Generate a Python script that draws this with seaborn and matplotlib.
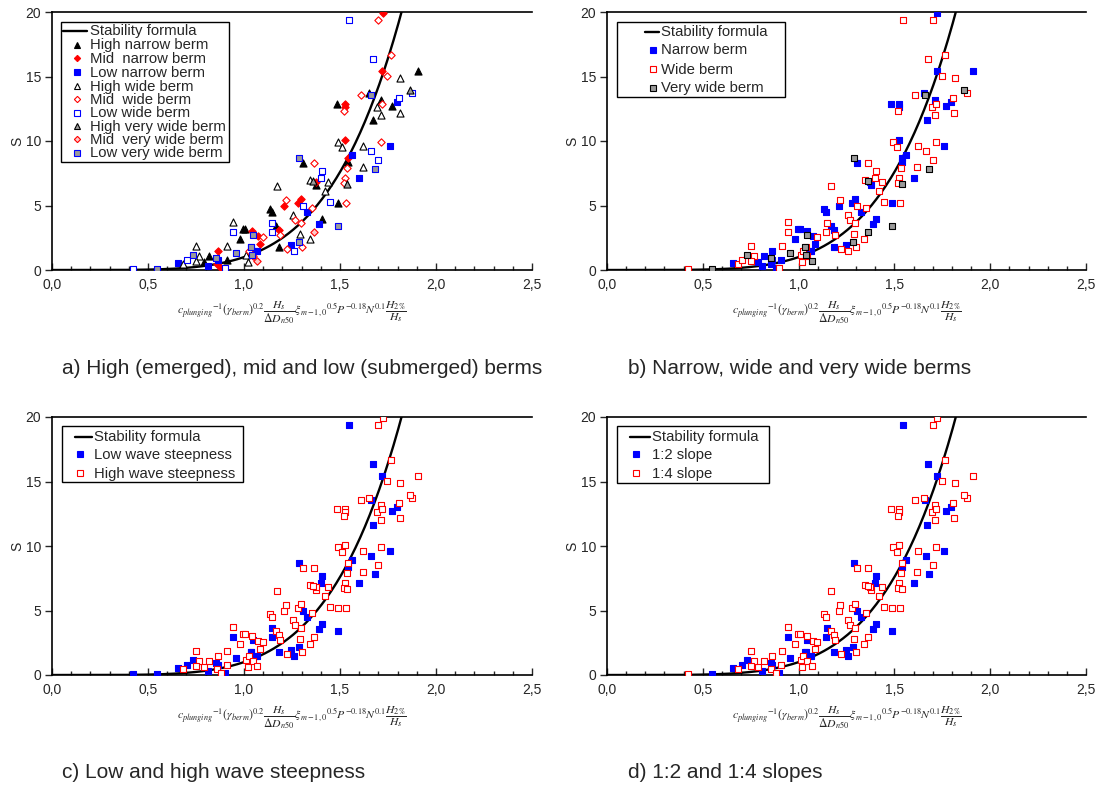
import numpy as np
import pandas as pd
import matplotlib
matplotlib.use("Agg")
import matplotlib.pyplot as plt
import seaborn as sns
from matplotlib.lines import Line2D
from matplotlib.patches import Rectangle
from matplotlib.ticker import MultipleLocator, FuncFormatter

sns.set_style("white")
plt.rcParams['font.family'] = ['Liberation Sans', 'DejaVu Sans']
plt.rcParams['mathtext.fontset'] = 'stix'

# ---- measured damage S against the combined stability parameter ----
# high crest, narrow berm
hn_x = [0.79, 0.82, 0.91, 0.98, 0.995, 1.005, 1.134, 1.144, 1.167, 1.183, 1.307, 1.377,
        1.404, 1.49, 1.54, 1.482, 1.652, 1.712, 1.771, 1.67, 1.908]
hn_s = [0.6, 1.1, 0.78, 2.4, 3.2, 3.2, 4.7, 4.5, 3.4, 1.8, 8.3, 6.6,
        3.95, 5.2, 8.4, 12.9, 13.7, 13.2, 12.7, 11.6, 15.4]
# mid crest, narrow berm
mn_x = [0.858, 0.88, 0.862, 1.044, 1.075, 1.083, 1.184, 1.21, 1.28, 1.295, 1.375, 1.54,
        1.525, 1.525, 1.525, 1.72, 1.723]
mn_s = [0.45, 0.15, 1.5, 3.0, 2.65, 2.0, 3.1, 4.95, 5.2, 5.5, 6.8, 8.7,
        10.1, 12.9, 12.6, 15.4, 19.9]
# low crest, narrow berm
ln_x = [0.658, 0.81, 0.862, 1.058, 1.066, 1.245, 1.326, 1.39, 1.56, 1.60, 1.76, 1.796]
ln_s = [0.55, 0.3, 0.8, 1.5, 1.45, 1.9, 4.5, 3.6, 8.9, 7.1, 9.6, 13.0]
# high crest, wide berm
hw_x = [0.684, 0.75, 0.765, 0.75, 0.914, 0.944, 1.011, 1.02, 1.17, 1.256, 1.29, 1.343,
        1.344, 1.435, 1.42, 1.62, 1.492, 1.513, 1.622, 1.695, 1.813, 1.712, 1.815]
hw_s = [0.5, 1.85, 1.1, 0.7, 1.85, 3.7, 1.2, 0.6, 6.55, 4.3, 2.8, 2.4,
        7.0, 6.8, 6.15, 8.0, 9.95, 9.5, 9.65, 12.65, 12.15, 12.05, 14.9]
# mid crest, wide berm
mw_x = [1.025, 1.046, 1.097, 1.19, 1.222, 1.30, 1.217, 1.266, 1.295, 1.354, 1.364,
        1.534, 1.525, 1.52, 1.53, 1.519, 1.61, 1.716, 1.719, 1.747, 1.765, 1.70]
mw_s = [1.45, 1.05, 2.55, 2.75, 1.65, 1.75, 5.4, 3.9, 3.65, 4.8, 8.3,
        7.9, 7.1, 6.75, 5.2, 12.3, 13.6, 9.9, 12.9, 15.05, 16.7, 19.35]
# low crest, wide berm
lw_x = [0.422, 0.705, 0.9, 0.944, 1.037, 1.145, 1.148, 1.26, 1.305, 1.40, 1.404, 1.448,
        1.664, 1.70, 1.806, 1.877, 1.674, 1.545]
lw_s = [0.1, 0.75, 0.15, 2.95, 1.8, 2.95, 3.65, 1.5, 5.0, 7.1, 7.7, 5.3,
        9.2, 8.5, 13.3, 13.7, 16.35, 19.4]
# high crest, very wide berm
hv_x = [1.36, 1.538, 1.865]
hv_s = [6.9, 6.65, 13.95]
# mid crest, very wide berm
mv_x = [1.069, 1.364]
mv_s = [0.7, 2.95]
# low crest, very wide berm
lv_x = [0.549, 0.732, 0.855, 0.957, 1.035, 1.04, 1.046, 1.285, 1.287, 1.488, 1.683, 1.66]
lv_s = [0.05, 1.2, 0.9, 1.35, 1.75, 1.2, 2.7, 2.2, 8.7, 3.4, 7.8, 13.6]

# wave steepness (L = low, H = high) and slope (2 = 1:2, 4 = 1:4) per test
hn_steep = "HHHHHHHHHLHHLHLHHHLLH"
hn_slope = "444444444244242444224"
mn_steep = "HHHHHHHHHHHHHHHLH"
mn_slope = "44444444444444424"
ln_steep = "LLLLLLLLLLLL"
ln_slope = "222222222222"
hw_steep = "HHHHHHHHHHHHHHHHHHHHHHH"
hw_slope = "44444444444444444444444"
mw_steep = "HHHHHHHHHHHHHHHHHHHHHH"
mw_slope = "4444444444444444444444"
lw_steep = "LLLLLLLLLLLHLHHHLL"
lw_slope = "422222222224244422"
hv_steep = "HHH"
hv_slope = "444"
mv_steep = "HH"
mv_slope = "44"
lv_steep = "LLLLLLLLLLLL"
lv_slope = "222222222222"

groups = [
    ("High narrow berm", "H", "N", hn_x, hn_s, hn_steep, hn_slope),
    ("Mid  narrow berm", "M", "N", mn_x, mn_s, mn_steep, mn_slope),
    ("Low narrow berm", "L", "N", ln_x, ln_s, ln_steep, ln_slope),
    ("High wide berm", "H", "W", hw_x, hw_s, hw_steep, hw_slope),
    ("Mid  wide berm", "M", "W", mw_x, mw_s, mw_steep, mw_slope),
    ("Low wide berm", "L", "W", lw_x, lw_s, lw_steep, lw_slope),
    ("High very wide berm", "H", "V", hv_x, hv_s, hv_steep, hv_slope),
    ("Mid  very wide berm", "M", "V", mv_x, mv_s, mv_steep, mv_slope),
    ("Low very wide berm", "L", "V", lv_x, lv_s, lv_steep, lv_slope),
]

rows = []
for name, crest, width, xs, ss, st, sl in groups:
    for i, (xv, sv) in enumerate(zip(xs, ss)):
        rows.append(dict(group=name, crest=crest, width=width, x=xv, S=sv,
                         steep=st[i], slope=sl[i]))
df = pd.DataFrame(rows)

# stability formula S = X^5
xc = np.linspace(0.0, 1.86, 300)
curve = pd.DataFrame(dict(x=xc, S=xc ** 5))

BLUE = "#0000ff"
RED = "#ff0000"
GREY = "#9a9a9a"

crest_marker = {"H": "^", "M": "D", "L": "s"}
crest_color = {"H": "black", "M": RED, "L": BLUE}

MS = 20  # marker area in pt^2
FS_LEG = 10.7

fig = plt.figure(figsize=(11.01, 7.87), dpi=100)
W, H = 1101, 787


def fx(px):
    return px / W


def fy(py):
    return 1 - py / H


def style_for(crest, width):
    edge = crest_color[crest]
    if width == "N":
        face = edge
    elif width == "W":
        face = "white"
    else:
        face = "#ffc8c8" if crest == "M" else GREY
    size = MS
    if crest == "M":
        size = MS * 0.7
    elif crest == "H":
        size = MS * 1.3
    return crest_marker[crest], face, edge, size


XLABEL = (r"$c_{plunging}{}^{-1}(\gamma_{berm})^{0.2}\dfrac{H_s}{\Delta D_{n50}}"
          r"\xi_{m-1,0}{}^{0.5}P^{-0.18}N^{0.1}\dfrac{H_{2\%}}{H_s}$")


def setup_axes(ax):
    ax.set_xlim(0, 2.5)
    ax.set_ylim(0, 20)
    ax.xaxis.set_major_locator(MultipleLocator(0.5))
    ax.xaxis.set_minor_locator(MultipleLocator(0.1))
    ax.yaxis.set_major_locator(MultipleLocator(5))
    ax.xaxis.set_major_formatter(FuncFormatter(lambda v, p: f"{v:.1f}".replace(".", ",")))
    ax.yaxis.set_major_formatter(FuncFormatter(lambda v, p: f"{v:.0f}"))
    ax.tick_params(axis="x", which="major", direction="in", length=5, width=1,
                   labelsize=10, pad=6, bottom=True)
    ax.tick_params(axis="x", which="minor", direction="in", length=3, width=1, bottom=True)
    ax.tick_params(axis="y", which="major", direction="out", length=5, width=1,
                   labelsize=10, left=True, pad=3)
    for side in ["left", "bottom", "top"]:
        ax.spines[side].set_visible(True)
        ax.spines[side].set_color("black")
        ax.spines[side].set_linewidth(1.2)
    ax.spines["right"].set_visible(False)
    ax.set_ylabel("S", fontsize=10, labelpad=1)
    ax.set_xlabel(XLABEL, fontsize=8.5, labelpad=5)


def draw_curve(ax):
    sns.lineplot(data=curve, x="x", y="S", color="black", lw=1.7, ax=ax,
                 legend=False, zorder=3)


def draw_key(box, line_span, mark_x, text_x, row_y, entries):
    """Boxed key: first row is the formula line, the rest are marker entries."""
    x0, y0, x1, y1 = box
    fig.add_artist(Rectangle((fx(x0), fy(y1)), fx(x1) - fx(x0), fy(y0) - fy(y1),
                             transform=fig.transFigure, fill=True, fc="white",
                             ec="black", lw=1.0, zorder=10))
    for (label, spec), yy in zip(entries, row_y):
        if spec is None:
            fig.add_artist(Line2D([fx(line_span[0]), fx(line_span[1])], [fy(yy)] * 2,
                                  transform=fig.transFigure, color="black", lw=1.7,
                                  zorder=11))
        else:
            m, face, edge, msize = spec
            fig.add_artist(Line2D([fx(mark_x)], [fy(yy)], transform=fig.transFigure,
                                  ls="", marker=m, markersize=msize, markerfacecolor=face,
                                  markeredgecolor=edge, markeredgewidth=0.8, zorder=11))
        fig.text(fx(text_x), fy(yy + 0.5), label, fontsize=FS_LEG, va="center",
                 ha="left", zorder=12)


ax_a = fig.add_axes([fx(52), fy(270), fx(480), (270 - 12) / H])
ax_b = fig.add_axes([fx(607), fy(270), fx(479), (270 - 12) / H])
ax_c = fig.add_axes([fx(52), fy(675), fx(480), (675 - 417) / H])
ax_d = fig.add_axes([fx(607), fy(675), fx(479), (675 - 417) / H])

# a) crest level and berm width
entries = [("Stability formula", None)]
draw_curve(ax_a)
for name, crest, width, *_ in groups:
    sub = df[df.group == name]
    m, face, edge, size = style_for(crest, width)
    sns.scatterplot(data=sub, x="x", y="S", marker=m, s=size, color=face,
                    edgecolor=edge, linewidth=0.8, ax=ax_a, legend=False, zorder=4)
    entries.append((name, (m, face, edge, np.sqrt(size) * 0.85)))
setup_axes(ax_a)
draw_key((61, 22, 229, 162), (63, 87), 76.5, 89.5,
         [31, 45, 58.3, 72.3, 86, 99.3, 112.7, 126, 139.3, 152.7], entries)


def class_panel(ax, col, spec, box, line_span, mark_x, text_x, row_y):
    entries = [("Stability formula", None)]
    draw_curve(ax)
    for key, label, face, edge in spec:
        sub = df[df[col] == key]
        sns.scatterplot(data=sub, x="x", y="S", marker="s", s=MS, color=face,
                        edgecolor=edge, linewidth=0.8, ax=ax, legend=False, zorder=4)
        entries.append((label, ("s", face, edge, 3.9)))
    setup_axes(ax)
    draw_key(box, line_span, mark_x, text_x, row_y, entries)


class_panel(ax_b, "width", [("N", "Narrow berm", BLUE, BLUE),
                            ("W", "Wide berm", "white", RED),
                            ("V", "Very wide berm", GREY, "black")],
            (617, 22, 785, 97), (645, 659), 653, 661, [31.7, 50, 69, 87.7])
class_panel(ax_c, "steep", [("L", "Low wave steepness", BLUE, BLUE),
                            ("H", "High wave steepness", "white", RED)],
            (62, 426, 243, 482), (75, 92), 80, 93.5, [436.7, 454.3, 473.3])
class_panel(ax_d, "slope", [("2", "1:2 slope", BLUE, BLUE),
                            ("4", "1:4 slope", "white", RED)],
            (617, 426, 769, 483), (630, 650), 636, 652, [436.7, 454.3, 473.3])

cap_kw = dict(fontsize=15, va="center", ha="left")
fig.text(fx(62), fy(368), "a) High (emerged), mid and low (submerged) berms", **cap_kw)
fig.text(fx(628), fy(368), "b) Narrow, wide and very wide berms", **cap_kw)
fig.text(fx(62), fy(772), "c) Low and high wave steepness", **cap_kw)
fig.text(fx(628), fy(772), "d) 1:2 and 1:4 slopes", **cap_kw)

fig.savefig("out.png", dpi=100)
